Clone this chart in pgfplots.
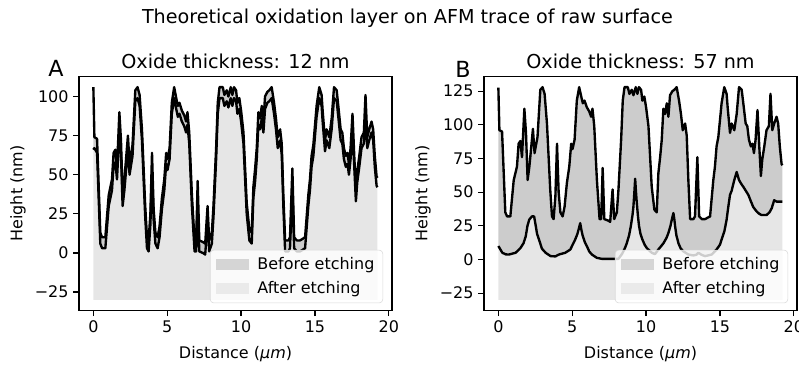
\documentclass[border=0pt]{standalone}
\usepackage{pgfplots}
\pgfplotsset{compat=1.18}
\usepackage{pgfplotstable}
\usepgfplotslibrary{fillbetween}
\usepackage{fontspec}
\setmainfont{DejaVu Sans}
\definecolor{beforec}{RGB}{204,204,204}
\definecolor{afterc}{RGB}{230,230,230}

% Left panel: surface before etching (upper) and after etching (lower)
\pgfplotstableread{
x y
0 106
0.07 74
0.25 73
0.47 13
0.59 10
0.81 10
1.04 37
1.26 47
1.37 64
1.49 66
1.6 54
1.76 90
1.87 72
1.98 37
2.1 47
2.34 75
2.45 57
2.65 69
2.84 104
2.99 106
3.13 101
3.29 79
3.51 30
3.63 10
3.74 8
3.86 25
3.97 64
4.08 28
4.2 13
4.35 10
4.48 17
4.64 35
4.8 47
4.93 64
5.02 60
5.16 67
5.31 96
5.47 106
5.61 99
5.72 94
5.83 96
5.99 91
6.15 88
6.28 84
6.37 90
6.49 77
6.67 37
6.85 8
6.96 8
7.06 46
7.17 8
7.41 7
7.57 6
7.73 30
7.84 8
8.02 13
8.13 30
8.31 67
8.42 96
8.54 106
8.76 106
8.87 101
9.03 104
9.14 100
9.3 106
9.41 101
9.52 106
9.66 104
9.75 96
9.88 99
10.0 91
10.16 77
10.38 32
10.56 15
10.72 13
10.83 42
10.95 54
11.06 67
11.17 90
11.28 86
11.4 94
11.51 84
11.62 100
11.78 103
11.91 104
12.07 106
12.23 96
12.36 86
12.48 74
12.64 79
12.75 70
12.86 37
12.98 8
13.2 8
13.31 10
13.47 54
13.59 10
13.77 8
13.99 8
14.33 10
14.55 37
14.66 47
14.77 62
14.89 69
15.11 94
15.29 106
15.45 101
15.52 91
15.68 72
15.79 79
15.97 74
16.13 86
16.29 106
16.47 104
16.58 94
16.74 79
16.85 77
16.96 67
17.09 62
17.2 64
17.3 57
17.41 67
17.54 89
17.66 62
17.77 40
17.86 52
18.0 62
18.15 74
18.31 77
18.42 101
18.54 74
18.67 79
18.83 84
18.94 79
19.05 62
19.17 49
19.23 48
}\LU

\pgfplotstableread{
x y
0 66
0.07 67
0.25 64
0.47 6
0.59 3
0.81 3
1.04 30
1.26 40
1.37 56
1.49 58
1.6 47
1.76 78
1.87 63
1.98 30
2.1 40
2.34 67
2.45 50
2.65 62
2.84 97
2.99 99
3.13 94
3.29 72
3.51 23
3.63 3
3.74 1
3.86 18
3.97 52
4.08 21
4.2 6
4.35 3
4.48 10
4.64 28
4.8 40
4.93 57
5.02 53
5.16 60
5.31 89
5.47 99
5.61 92
5.72 87
5.83 89
5.99 84
6.15 81
6.28 77
6.37 82
6.49 70
6.67 30
6.85 1
6.96 1
7.06 34
7.17 1
7.41 0
7.57 -1
7.73 20
7.84 1
8.02 6
8.13 23
8.31 60
8.42 89
8.54 99
8.76 99
8.87 94
9.03 97
9.14 93
9.3 99
9.41 94
9.52 99
9.66 97
9.75 89
9.88 92
10.0 84
10.16 70
10.38 25
10.56 8
10.72 6
10.83 35
10.95 46
11.06 60
11.17 82
11.28 79
11.4 86
11.51 77
11.62 92
11.78 96
11.91 97
12.07 99
12.23 89
12.36 79
12.48 67
12.64 72
12.75 63
12.86 30
12.98 1
13.2 1
13.31 3
13.47 42
13.59 3
13.77 1
13.99 1
14.33 3
14.55 30
14.66 40
14.77 55
14.89 62
15.11 87
15.29 99
15.45 94
15.52 84
15.68 65
15.79 72
15.97 67
16.13 79
16.29 99
16.47 97
16.58 87
16.74 72
16.85 70
16.96 60
17.09 55
17.2 57
17.3 50
17.41 60
17.54 78
17.66 55
17.77 33
17.86 45
18.0 55
18.15 67
18.31 70
18.42 88
18.54 67
18.67 72
18.83 77
18.94 72
19.05 55
19.17 43
19.23 42
}\LL

% Right panel
\pgfplotstableread{
x y
0 127.7
0.07 96
0.25 95
0.47 35
0.59 32
0.81 32
1.04 59
1.26 69
1.37 86
1.49 88
1.6 76
1.76 112
1.87 94
1.98 59
2.1 69
2.34 97
2.45 79
2.65 91
2.84 126
2.99 128
3.13 123
3.29 101
3.51 52
3.63 32
3.74 30
3.86 47
3.97 86
4.08 50
4.2 35
4.35 32
4.48 39
4.64 57
4.8 69
4.93 86
5.02 82
5.16 89
5.31 118
5.47 128
5.61 121
5.72 116
5.83 118
5.99 113
6.15 110
6.28 106
6.37 112
6.49 99
6.67 59
6.85 30
6.96 30
7.06 68
7.17 30
7.41 29
7.57 28
7.73 52
7.84 30
8.02 35
8.13 52
8.31 89
8.42 118
8.54 128
8.76 128
8.87 123
9.03 126
9.14 122
9.3 128
9.41 123
9.52 128
9.66 126
9.75 118
9.88 121
10.0 113
10.16 99
10.38 54
10.56 37
10.72 35
10.83 64
10.95 76
11.06 89
11.17 112
11.28 108
11.4 116
11.51 106
11.62 122
11.78 125
11.91 126
12.07 128
12.23 118
12.36 108
12.48 96
12.64 101
12.75 92
12.86 59
12.98 30
13.2 30
13.31 32
13.47 76
13.59 32
13.77 30
13.99 30
14.33 32
14.55 59
14.66 69
14.77 84
14.89 91
15.11 116
15.29 128
15.45 123
15.52 113
15.68 94
15.79 101
15.97 96
16.13 108
16.29 128
16.47 126
16.58 116
16.74 101
16.85 99
16.96 89
17.09 84
17.2 86
17.3 79
17.41 89
17.54 111
17.66 84
17.77 62
17.86 74
18.0 84
18.15 96
18.31 99
18.42 123
18.54 96
18.67 101
18.83 106
18.94 101
19.05 84
19.17 71
19.23 70
}\RU

\pgfplotstableread{
x y
0 10
0.27 5
0.5 3.8
0.72 3.7
1.17 5
1.5 8.6
1.7 12
1.85 17
1.97 25
2.09 29.6
2.27 32
2.42 32
2.53 25
2.62 19
2.75 14.8
2.95 8
3.2 5
3.54 2.5
3.86 2.3
4.1 3.7
4.53 5
4.87 7.4
5.2 14.8
5.35 19
5.45 23
5.54 27
5.62 22
5.7 18
5.85 13
5.99 9.9
6.15 6
6.33 3.7
6.67 1.2
7.0 0.5
8.13 0.5
8.36 4
8.55 8
8.69 12
8.85 18
8.97 25
9.08 33
9.14 39
9.2 49
9.26 60
9.31 51
9.37 42
9.45 32
9.52 25
9.62 19
9.75 14.8
9.9 11
10.04 8.6
10.38 5
10.6 4
10.83 7.4
11.17 12
11.38 16
11.51 19.7
11.65 25
11.74 29.6
11.85 34.5
11.91 30
11.96 25
12.05 18
12.19 12
12.35 8
12.53 6
12.86 3.7
13.2 3
13.4 3.5
13.54 5
13.75 3.5
13.99 2.5
14.44 3.7
14.77 7.4
15.0 11
15.11 14.8
15.3 21
15.45 29.6
15.55 38
15.68 48
15.79 51
15.97 59
16.13 65
16.29 59
16.45 56
16.58 54
16.75 51
16.92 48
17.1 43
17.25 39
17.48 35.7
17.65 34
17.82 33
18.15 33
18.35 35
18.5 38
18.67 44
18.83 43
19.23 43
}\RL

\pgfplotstableread{
x y
0 -30
19.23 -30
}\Base

\begin{document}
\begin{tikzpicture}[x=0.72pt,y=0.72pt]

\pgfplotsset{
  panel/.style={
    scale only axis, width=225.4pt, height=168.5pt, anchor=south west,
    xmin=-0.97, xmax=20.22,
    xtick={0,5,10,15,20}, xticklabels={0,5,10,15,20},
    tick pos=left, tick align=outside, major tick length=4pt,
    every tick/.style={black, line width=0.9pt},
    axis line style={line width=0.9pt},
    tick label style={font=\fontsize{11.5}{13}\selectfont},
    set layers,
    legend style={at={(1,0)}, anchor=south east, xshift=-6.5pt, yshift=5.3pt,
      draw=black!15, rounded corners=2.5pt, fill=white, fill opacity=0.8,
      text opacity=1, draw opacity=1, font=\fontsize{11.5}{13}\selectfont,
      row sep=3.5pt, inner xsep=4pt, inner ysep=3pt, cells={anchor=west},
      /tikz/every odd column/.append style={column sep=4pt}},
    legend cell align=left,
  },
  curve/.style={black, line width=1.7pt, line join=round, forget plot},
  patch/.style={legend image code/.code={\fill[fill=#1, draw=none, sharp corners] (0pt,-4pt) rectangle (24pt,4pt);}},
}

\begin{axis}[panel, at={(56.9pt,42.1pt)}, ymin=-36.8, ymax=112.8,
  ytick={-25,0,25,50,75,100}, yticklabels={−25,0,25,50,75,100}]
\addplot[draw=none, forget plot, name path=B] table {\Base};
\addplot[curve, name path=U] table {\LU};
\addplot[curve, name path=L] table {\LL};
\addplot[fill=beforec, draw=none, patch=beforec] fill between[of=U and L];
\addlegendentry{Before etching}
\addplot[fill=afterc, draw=none, patch=afterc] fill between[of=L and B];
\addlegendentry{After etching}
\end{axis}

\begin{axis}[panel, at={(348.5pt,42.1pt)}, ymin=-37.9, ymax=135.9,
  ytick={-25,0,25,50,75,100,125}, yticklabels={−25,0,25,50,75,100,125}]
\addplot[draw=none, forget plot, name path=B] table {\Base};
\addplot[curve, name path=U] table {\RU};
\addplot[curve, name path=L] table {\RL};
\addplot[fill=beforec, draw=none, patch=beforec] fill between[of=U and L];
\addlegendentry{Before etching}
\addplot[fill=afterc, draw=none, patch=afterc] fill between[of=L and B];
\addlegendentry{After etching}
\end{axis}

\node[anchor=base, font=\fontsize{13.8}{16}\selectfont] at (407.5,345) {Theoretical oxidation layer on AFM trace of raw surface};
\node[anchor=base, font=\fontsize{13.8}{16}\selectfont] at (235.5,300.8) {Oxide thickness: 12 nm};
\node[anchor=base, font=\fontsize{13.8}{16}\selectfont] at (640.5,300.8) {Oxide thickness: 57 nm};
\node[anchor=base west, inner sep=0pt, font=\fontsize{16}{18}\selectfont] at (48,292) {A};
\node[anchor=base west, inner sep=0pt, font=\fontsize{16}{18}\selectfont] at (455,291) {B};
\node[rotate=90, font=\fontsize{11.5}{13}\selectfont] at (18,175.5) {Height (nm)};
\node[rotate=90, font=\fontsize{11.5}{13}\selectfont] at (423,175.5) {Height (nm)};
\node[font=\fontsize{11.5}{13}\selectfont] at (235.5,15) {Distance ({\itshape μm})};
\node[font=\fontsize{11.5}{13}\selectfont] at (640.5,15) {Distance ({\itshape μm})};

\pgfresetboundingbox
\useasboundingbox (0,0) rectangle (799,369);
\end{tikzpicture}
\end{document}
